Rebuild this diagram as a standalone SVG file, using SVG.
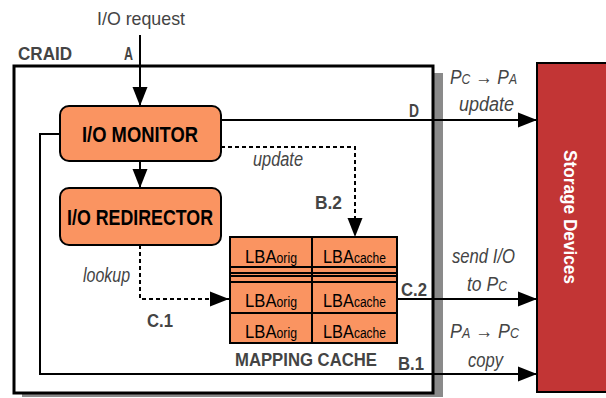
<svg xmlns="http://www.w3.org/2000/svg" width="606" height="398" viewBox="0 0 606 398">
<defs>
<marker id="ah" markerUnits="userSpaceOnUse" markerWidth="20" markerHeight="16" refX="19" refY="8" orient="auto">
<path d="M0,0.5 L19,8 L0,15.5 z" fill="#000"/>
</marker>
<style>
.node{fill:#FA9461;stroke:#000;stroke-width:2}
.nl{font-family:"Liberation Sans",Arial,sans-serif;font-weight:bold;font-size:22px;fill:#000;text-anchor:middle}
.lb{font-family:"Liberation Sans",Arial,sans-serif;font-weight:bold;font-size:18px;fill:#444}
.it{font-family:"Liberation Sans",Arial,sans-serif;font-style:italic;font-size:20px;fill:#444}
.rg{font-family:"Liberation Sans",Arial,sans-serif;font-size:19px;fill:#444}
.cell{font-family:"Liberation Sans",Arial,sans-serif;fill:#000}
.ln{fill:none;stroke:#000;stroke-width:2}
.dl{fill:none;stroke:#000;stroke-width:2;stroke-dasharray:4,3}
</style>
</defs>
<rect width="606" height="398" fill="#fff"/>
<g id="craid">
<rect x="22" y="73" width="421" height="324" fill="#8a8a8a"/>
<rect x="14" y="66" width="419" height="327" fill="#fff" stroke="#000" stroke-width="3"/>
<text class="lb" x="18" y="60" textLength="54" lengthAdjust="spacingAndGlyphs">CRAID</text>
</g>
<text class="rg" x="97" y="25" font-size="21" textLength="88" lengthAdjust="spacingAndGlyphs">I/O request</text>
<g id="io-monitor">
<rect class="node" x="60" y="106" width="161" height="55" rx="9"/>
<text class="nl" x="140" y="142" textLength="116" lengthAdjust="spacingAndGlyphs">I/O MONITOR</text>
</g>
<g id="io-redirector">
<rect class="node" x="60" y="188" width="161" height="57" rx="9"/>
<text class="nl" x="140" y="225" textLength="146" lengthAdjust="spacingAndGlyphs">I/O REDIRECTOR</text>
</g>
<g id="mapping-cache">
<rect x="230" y="237" width="167" height="106" fill="#FA9461" stroke="#000" stroke-width="2"/>
<path class="ln" d="M312,237 V343 M230,267 H397 M230,273 H397 M230,276 H397 M230,282 H397 M230,313 H397"/>
<g class="cell">
<text x="245" y="263" font-size="19" textLength="52" lengthAdjust="spacingAndGlyphs">LBA<tspan font-size="14">orig</tspan></text>
<text x="245" y="307" font-size="19" textLength="52" lengthAdjust="spacingAndGlyphs">LBA<tspan font-size="14">orig</tspan></text>
<text x="245" y="338" font-size="19" textLength="52" lengthAdjust="spacingAndGlyphs">LBA<tspan font-size="14">orig</tspan></text>
<text x="323" y="263" font-size="19" textLength="63" lengthAdjust="spacingAndGlyphs">LBA<tspan font-size="14">cache</tspan></text>
<text x="323" y="307" font-size="19" textLength="63" lengthAdjust="spacingAndGlyphs">LBA<tspan font-size="14">cache</tspan></text>
<text x="323" y="338" font-size="19" textLength="63" lengthAdjust="spacingAndGlyphs">LBA<tspan font-size="14">cache</tspan></text>
</g>
<text class="lb" x="235" y="366" textLength="142" lengthAdjust="spacingAndGlyphs">MAPPING CACHE</text>
</g>
<g id="storage-devices">
<rect x="537" y="63" width="75" height="329" fill="#C23535" stroke="#000" stroke-width="2"/>
<text transform="translate(564,217) rotate(90)" font-family="Liberation Sans,Arial,sans-serif" font-weight="bold" font-size="18" fill="#fff" text-anchor="middle" textLength="134" lengthAdjust="spacingAndGlyphs">Storage Devices</text>
</g>
<g id="connectors">
<path class="ln" d="M140,35 V106" marker-end="url(#ah)"/>
<path class="ln" d="M140,161 V188" marker-end="url(#ah)"/>
<path class="ln" d="M221,120 H537" marker-end="url(#ah)"/>
<path class="dl" d="M221,147 H355 V237" marker-end="url(#ah)"/>
<path class="dl" d="M140,245 V299 H229" marker-end="url(#ah)"/>
<path class="ln" d="M397,299 H537" marker-end="url(#ah)"/>
<path class="ln" d="M60,134 H40 V374 H537" marker-end="url(#ah)"/>
</g>
<g id="labels">
<text class="lb" x="124" y="60" textLength="9" lengthAdjust="spacingAndGlyphs">A</text>
<text class="lb" x="409" y="117" textLength="10" lengthAdjust="spacingAndGlyphs">D</text>
<text class="lb" x="315" y="209" textLength="27" lengthAdjust="spacingAndGlyphs">B.2</text>
<text class="lb" x="147" y="327" textLength="26" lengthAdjust="spacingAndGlyphs">C.1</text>
<text class="lb" x="401" y="296" textLength="26" lengthAdjust="spacingAndGlyphs">C.2</text>
<text class="lb" x="398" y="370" textLength="26" lengthAdjust="spacingAndGlyphs">B.1</text>
<text class="it" x="253" y="166" textLength="50" lengthAdjust="spacingAndGlyphs">update</text>
<text class="it" x="83" y="282" textLength="47" lengthAdjust="spacingAndGlyphs">lookup</text>
<text class="it" x="450" y="84" font-size="21" textLength="67" lengthAdjust="spacingAndGlyphs">P<tspan font-size="14">C</tspan> → P<tspan font-size="14">A</tspan></text>
<text class="it" x="459" y="111" textLength="55" lengthAdjust="spacingAndGlyphs">update</text>
<text class="it" x="452" y="263" textLength="63" lengthAdjust="spacingAndGlyphs">send I/O</text>
<text class="it" x="467" y="291" textLength="40" lengthAdjust="spacingAndGlyphs">to P<tspan font-size="14">C</tspan></text>
<text class="it" x="450" y="338" font-size="21" textLength="69" lengthAdjust="spacingAndGlyphs">P<tspan font-size="14">A</tspan> → P<tspan font-size="14">C</tspan></text>
<text class="it" x="468" y="367" textLength="35" lengthAdjust="spacingAndGlyphs">copy</text>
</g>
</svg>
